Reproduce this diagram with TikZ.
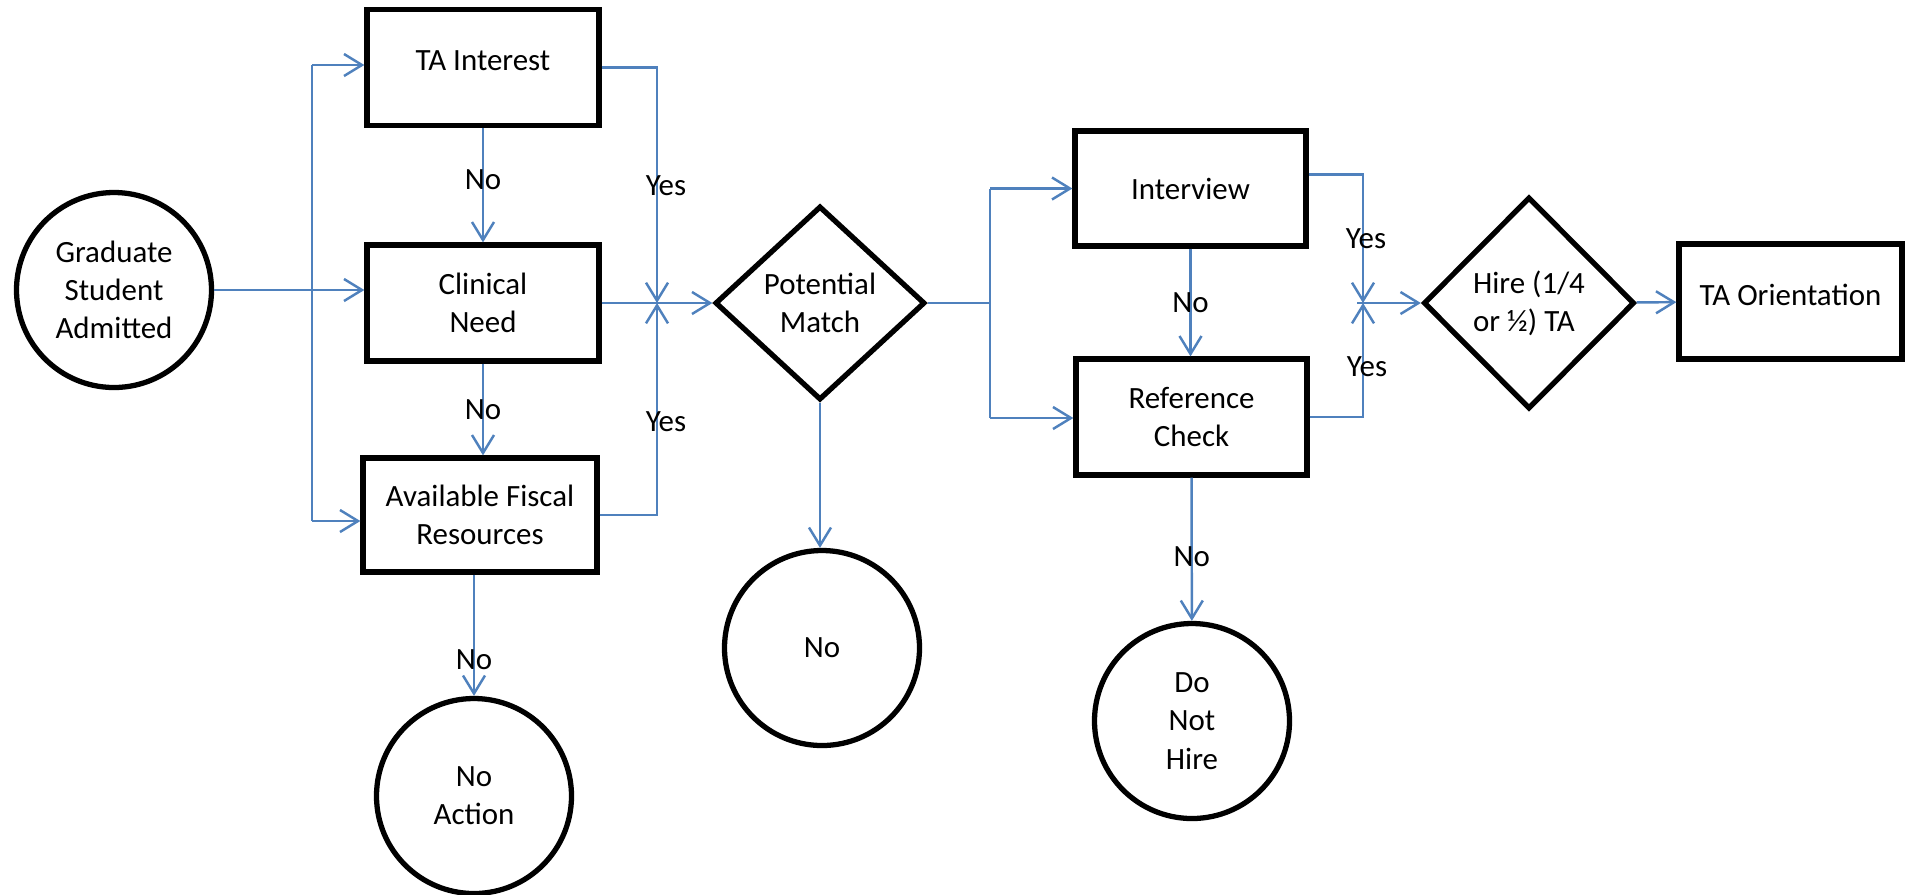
\documentclass[tikz,border=0pt]{standalone}
\usepackage{fontspec}
\setmainfont{Carlito}
\usepackage{xcolor}
\usepackage{tikz}
\usetikzlibrary{positioning,arrows.meta,shapes.geometric}
\definecolor{flowblue}{RGB}{79,129,189}
\newcommand{\flowfont}{\fontsize{8.8}{10.9}\selectfont}
\tikzset{
  boxnode/.style  = {rectangle, minimum width=2.32cm, minimum height=1.16cm, inner sep=0pt,
                     draw=black, line width=1.5pt, align=center, font=\flowfont},
  endnode/.style  = {circle, minimum size=1.95cm, inner sep=0pt,
                     draw=black, line width=1.5pt, align=center, font=\flowfont},
  decnode/.style  = {diamond, minimum width=2.1cm, minimum height=1.94cm, inner sep=0pt,
                     draw=black, line width=1.5pt, align=center, font=\flowfont},
  flowedge/.style = {draw=flowblue, line width=0.7pt},
  flowarr/.style  = {flowedge, -{Straight Barb[length=0.18cm, width=0.22cm]}},
  edgelbl/.style  = {font=\flowfont, inner sep=0pt}
}

\begin{document}
\begin{tikzpicture}
  \useasboundingbox (0,0) rectangle (19.05,-8.94);
  % Start
  \node[endnode] (grad) at (1.14,-2.90) {Graduate\\Student\\Admitted};
  % Screening
  \node[boxnode, text depth=0.13cm] (tai) at (4.83,-0.675) {TA Interest};
  \node[boxnode] (clin) at (4.83,-3.03)  {Clinical\\Need};
  \node[boxnode, minimum width=2.34cm, minimum height=1.14cm]
                 (fisc) at (4.80,-5.15)  {Available Fiscal\\Resources};
  \node[endnode] (noact) at (4.74,-7.96) {No\\Action};
  % Match
  \node[decnode] (pm)  at (8.20,-3.03) {Potential\\Match};
  \node[endnode] (noc) at (8.22,-6.48) {No};
  % Hiring
  \node[boxnode, minimum width=2.31cm, minimum height=1.15cm]
                 (intv) at (11.905,-1.885) {Interview};
  \node[boxnode, minimum width=2.31cm]
                 (ref)  at (11.915,-4.17)  {Reference\\Check};
  \node[endnode] (dnh)  at (11.92,-7.21)   {Do\\Not\\Hire};
  \node[decnode, minimum width=2.11cm, minimum height=2.12cm, align=left]
                 (hire) at (15.29,-3.03)   {Hire (1/4\\or ½) TA};
  \node[boxnode, minimum width=2.23cm, minimum height=1.15cm, text depth=0.14cm]
                 (tao)  at (17.905,-3.015) {TA Orientation};
  % Junctions
  \coordinate (splitT)  at (3.12,-0.65);
  \coordinate (splitB)  at (3.12,-5.21);
  \coordinate (joinA)   at (6.57,-3.03);
  \coordinate (splitM)  at (9.90,-3.03);
  \coordinate (splitMT) at (9.90,-1.885);
  \coordinate (splitMB) at (9.90,-4.18);
  \coordinate (joinB)   at (13.63,-3.03);
  % Edges, left part
  \draw[flowarr] (grad) -- (grad -| clin.west);
  \draw[flowedge] (splitT) -- (splitB);
  \draw[flowarr] (splitT) -- (splitT -| tai.west);
  \draw[flowarr] (splitB) -- (splitB -| fisc.west);
  \draw[flowarr] (tai) -- node[edgelbl, pos=0.45]{No} (clin);
  \draw[flowarr] (clin.south) -- node[edgelbl]{No} (clin.south |- fisc.north);
  \draw[flowarr] (noact |- fisc.south) -- node[edgelbl, pos=0.7]{No} (noact);
  \draw[flowarr] (tai.east) -| node[edgelbl, pos=0.75, xshift=0.09cm]{Yes} (joinA);
  \draw[flowarr] (fisc.east) -| node[edgelbl, pos=0.72, xshift=0.09cm]{Yes} (joinA);
  \draw[flowarr] (clin) -- (pm);
  % Edges, middle part
  \draw[flowedge] (pm) -- (splitM);
  \draw[flowedge] (splitMT) -- (splitMB);
  \draw[flowarr] (splitMT) -- (intv);
  \draw[flowarr] (splitMB) -- (splitMB -| ref.west);
  \draw[flowarr] (pm.south) -- (pm.south |- noc.north);
  \draw[flowarr] (intv.south) -- node[edgelbl]{No} (intv.south |- ref.north);
  \draw[flowarr] (ref) -- node[edgelbl, pos=0.55]{No} (dnh);
  % Edges, right part
  \draw[flowarr] ([yshift=0.14cm]intv.east) -| node[edgelbl, pos=0.75, xshift=0.03cm]{Yes} (joinB);
  \draw[flowarr] (ref.east) -| node[edgelbl, pos=0.72, xshift=0.04cm]{Yes} (joinB);
  \draw[flowarr] ([xshift=-0.06cm]joinB) -- (hire);
  \draw[flowarr] (hire) -- (tao);
\end{tikzpicture}
\end{document}
